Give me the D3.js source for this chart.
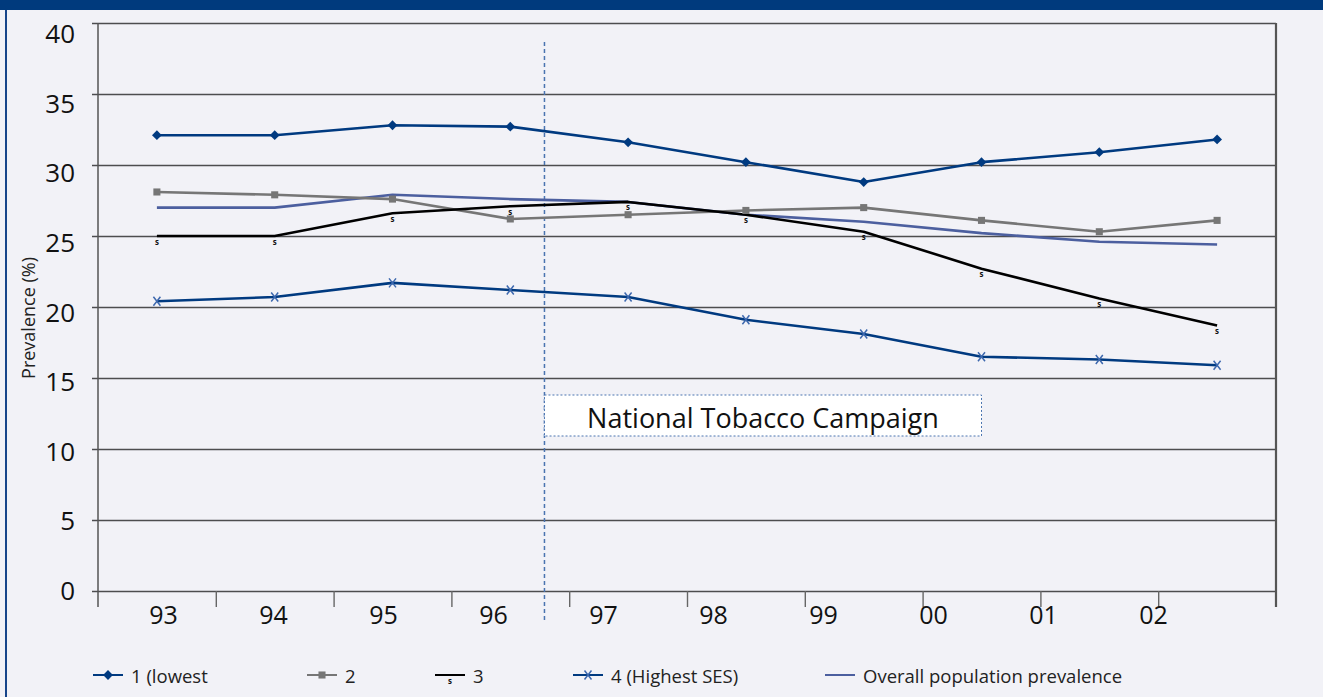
<!DOCTYPE html>
<html>
<head>
<meta charset="utf-8">
<script src="https://cdn.jsdelivr.net/npm/d3@7"></script>
<style>
  html, body { margin: 0; padding: 0; background: #F2F2F7; }
  svg { display: block; font-family: "Open Sans", "Noto Sans", sans-serif; }
</style>
</head>
<body>
<svg id="chart" width="1323" height="697"></svg>
<script>
// Survey years (two-digit labels)
const years = ["93", "94", "95", "96", "97", "98", "99", "00", "01", "02"];

// Smoking prevalence (%) by socio-economic quartile
const lowest  = [32.1, 32.1, 32.8, 32.7, 31.6, 30.2, 28.8, 30.2, 30.9, 31.8];
const second  = [28.1, 27.9, 27.6, 26.2, 26.5, 26.8, 27.0, 26.1, 25.3, 26.1];
const third   = [25.0, 25.0, 26.6, 27.1, 27.4, 26.5, 25.3, 22.7, 20.6, 18.7];
const highest = [20.4, 20.7, 21.7, 21.2, 20.7, 19.1, 18.1, 16.5, 16.3, 15.9];
const overall = [27.0, 27.0, 27.9, 27.6, 27.4, 26.5, 26.0, 25.2, 24.6, 24.4];

const yTicks = [0, 5, 10, 15, 20, 25, 30, 35, 40];
const seriesNames = ["1 (lowest", "2", "3", "4 (Highest SES)", "Overall population prevalence"];
const campaignLabel = "National Tobacco Campaign";
const campaignStart = 3.79; // fractional position along the year axis (mid-1996)

const svg = d3.select("#chart");
const W = 1323, H = 697;
const plot = { left: 98, right: 1276, top: 23, bottom: 591 };

// frame
svg.append("rect").attr("width", W).attr("height", H).attr("fill", "#F2F2F7");
svg.append("rect").attr("x", 0).attr("y", 0).attr("width", W).attr("height", 10).attr("fill", "#003A7D");
svg.append("rect").attr("x", 5).attr("y", 10).attr("width", 2).attr("height", H - 10).attr("fill", "#17458A");

// scales
const x = d3.scaleBand().domain(years).range([plot.left, plot.right]).padding(0);
const xc = d => x(d) + x.bandwidth() / 2;
const xEdge = d3.scaleLinear().domain([0, years.length]).range([plot.left, plot.right]);
const y = d3.scaleLinear().domain([0, 40]).range([plot.bottom, plot.top]);
// tick label placement
const xLab = d3.scalePoint().domain(years).range([163, 1153]);
const yLab = d3.scaleLinear().domain([0, 40]).range([plot.bottom, 34.5]);

// horizontal gridlines (with short outer tick on the left)
const grid = svg.append("g")
  .attr("transform", `translate(${plot.right},0)`)
  .call(d3.axisLeft(y).tickValues(yTicks).tickSize(plot.right - plot.left + 6).tickFormat(""));
grid.select(".domain").remove();
grid.selectAll(".tick line").attr("stroke", "#4D4D4F").attr("stroke-width", 1.6);

// y tick labels
const yl = svg.append("g")
  .attr("transform", "translate(75,0)")
  .call(d3.axisLeft(yLab).tickValues(yTicks).tickSize(0).tickPadding(0));
yl.select(".domain").remove();
yl.selectAll("text").attr("font-size", 26).attr("fill", "#111")
  .attr("font-family", "'Open Sans', sans-serif");

// vertical axis lines
svg.append("line").attr("x1", plot.left).attr("x2", plot.left)
  .attr("y1", plot.top).attr("y2", plot.bottom + 16)
  .attr("stroke", "#555").attr("stroke-width", 1.5);
svg.append("line").attr("x1", plot.right).attr("x2", plot.right)
  .attr("y1", plot.top).attr("y2", plot.bottom + 16)
  .attr("stroke", "#555").attr("stroke-width", 2.2);

// category boundary ticks
const xt = svg.append("g")
  .attr("transform", `translate(0,${plot.bottom})`)
  .call(d3.axisBottom(xEdge).tickValues(d3.range(1, years.length)).tickSize(16).tickFormat(""));
xt.select(".domain").remove();
xt.selectAll(".tick line").attr("stroke", "#666").attr("stroke-width", 1.4);

// x tick labels
const xl = svg.append("g")
  .attr("transform", `translate(0,${plot.bottom})`)
  .call(d3.axisBottom(xLab).tickSize(0).tickPadding(15));
xl.select(".domain").remove();
xl.selectAll("text").attr("font-size", 25).attr("fill", "#111")
  .attr("font-family", "'Open Sans', sans-serif");

// y axis title
svg.append("text")
  .attr("transform", "translate(35,318) rotate(-90)")
  .attr("text-anchor", "middle")
  .attr("font-size", 18).attr("fill", "#222")
  .text("Prevalence (%)");

// campaign marker
const cx = xEdge(campaignStart);
svg.append("line").attr("x1", cx).attr("x2", cx).attr("y1", 42).attr("y2", 622)
  .attr("stroke", "#4A74B0").attr("stroke-width", 1.5).attr("stroke-dasharray", "4,3");
svg.append("rect").attr("x", cx).attr("y", 395).attr("width", xc("00") - cx).attr("height", 41)
  .attr("fill", "#FFFFFF").attr("stroke", "#4A74B0").attr("stroke-width", 1)
  .attr("stroke-dasharray", "2,2");
svg.append("text").attr("x", (cx + xc("00")) / 2).attr("y", 417)
  .attr("text-anchor", "middle").attr("dominant-baseline", "central")
  .attr("font-size", 27).attr("fill", "#111").text(campaignLabel);

// series lines
const line = d3.line().x((d, i) => xc(years[i])).y(d => y(d));

const series = [
  { values: overall, color: "#4C5F9F", marker: "none" },
  { values: second,  color: "#767676", marker: "square" },
  { values: third,   color: "#000000", marker: "s" },
  { values: highest, color: "#003A80", marker: "x" },
  { values: lowest,  color: "#003A80", marker: "diamond" }
];

function drawMarker(g, kind, px, py, color) {
  if (kind === "diamond") {
    g.append("path").attr("d", d3.symbol(d3.symbolSquare, 48)())
      .attr("transform", `translate(${px},${py}) rotate(45)`).attr("fill", color);
  } else if (kind === "square") {
    g.append("path").attr("d", d3.symbol(d3.symbolSquare, 50)())
      .attr("transform", `translate(${px},${py})`).attr("fill", color);
  } else if (kind === "x") {
    g.append("path").attr("d", "M-3.5,-4.5L3.5,4.5M3.5,-4.5L-3.5,4.5")
      .attr("transform", `translate(${px},${py})`)
      .attr("stroke", "#3D68AE").attr("stroke-width", 1.5).attr("fill", "none");
  } else if (kind === "s") {
    g.append("text").attr("x", px).attr("y", py + 5)
      .attr("text-anchor", "middle").attr("dominant-baseline", "central")
      .attr("font-size", 8).attr("font-weight", "bold").attr("fill", "#111").text("s");
  }
}

const lines = svg.append("g");
series.forEach(s => {
  lines.append("path").attr("d", line(s.values))
    .attr("fill", "none").attr("stroke", s.color).attr("stroke-width", 2.6)
    .attr("stroke-linejoin", "round");
});
series.forEach(s => {
  s.values.forEach((v, i) => drawMarker(lines, s.marker, xc(years[i]), y(v), s.color));
});

// legend
const legendY = 675;
const legendX = [93, 307, 435, 573, 825];
const legendStyle = [
  { color: "#003A80", marker: "diamond" },
  { color: "#767676", marker: "square" },
  { color: "#000000", marker: "s" },
  { color: "#003A80", marker: "x" },
  { color: "#4C5F9F", marker: "none" }
];
const lg = svg.append("g");
seriesNames.forEach((name, i) => {
  const lx = legendX[i], st = legendStyle[i];
  lg.append("line").attr("x1", lx).attr("x2", lx + 30).attr("y1", legendY).attr("y2", legendY)
    .attr("stroke", st.color).attr("stroke-width", 2);
  drawMarker(lg, st.marker, lx + 15, legendY, st.color);
  lg.append("text").attr("x", lx + 38).attr("y", legendY)
    .attr("dominant-baseline", "central").attr("font-size", 18.5).attr("fill", "#222")
    .text(name);
});
</script>
</body>
</html>
